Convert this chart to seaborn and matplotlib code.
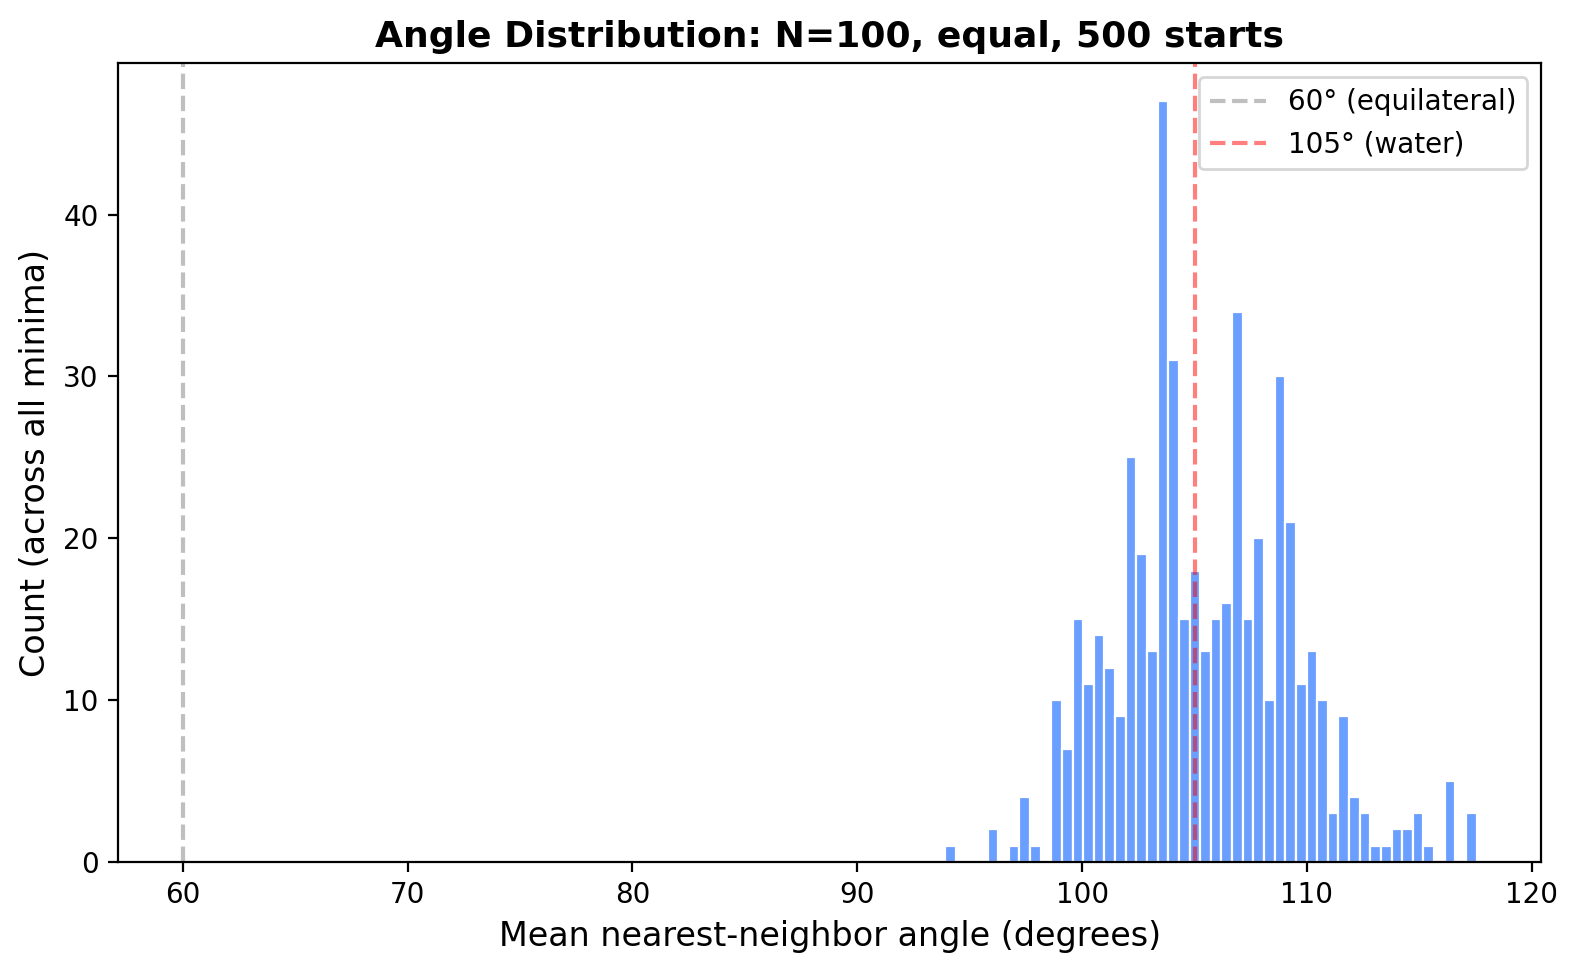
import numpy as np
import pandas as pd
import matplotlib
matplotlib.use("Agg")
import matplotlib.pyplot as plt
import seaborn as sns

# histogram counts, 50 equal bins
bin_lo = 93.9
bin_hi = 117.55
counts = [1, 0, 0, 0, 2, 0, 1, 4, 1, 0,
          10, 7, 15, 11, 14, 12, 9, 25, 19, 13,
          47, 31, 15, 18, 13, 15, 16, 34, 15, 20,
          10, 30, 21, 11, 13, 10, 3, 9, 4, 3,
          1, 1, 2, 2, 3, 1, 0, 5, 0, 3]
ref_angles = [60, 105]
ref_labels = ["60° (equilateral)", "105° (water)"]
ref_colors = ["gray", "red"]

edges = np.linspace(bin_lo, bin_hi, len(counts) + 1)
df = pd.DataFrame({"angle": (edges[:-1] + edges[1:]) / 2, "count": counts})

fig, ax = plt.subplots(figsize=(7.88, 4.88), dpi=200)

sns.histplot(data=df, x="angle", weights="count", bins=len(counts),
             binrange=(bin_lo, bin_hi), ax=ax,
             color="#6a9eff", alpha=1.0, edgecolor="white", linewidth=0.8)

for a, lab, c in zip(ref_angles, ref_labels, ref_colors):
    ax.axvline(a, color=c, linestyle="--", alpha=0.5, linewidth=1.5, label=lab)

ax.set_title("Angle Distribution: N=100, equal, 500 starts", fontsize=13, fontweight="bold")
ax.set_xlabel("Mean nearest-neighbor angle (degrees)", fontsize=12)
ax.set_ylabel("Count (across all minima)", fontsize=12)
ax.set_xticks([60, 70, 80, 90, 100, 110, 120])
ax.set_yticks([0, 10, 20, 30, 40])
ax.legend(loc="upper right", fontsize=10)

fig.subplots_adjust(left=0.075, right=0.978, top=0.935, bottom=0.117)
fig.savefig("out.png", dpi=200)
